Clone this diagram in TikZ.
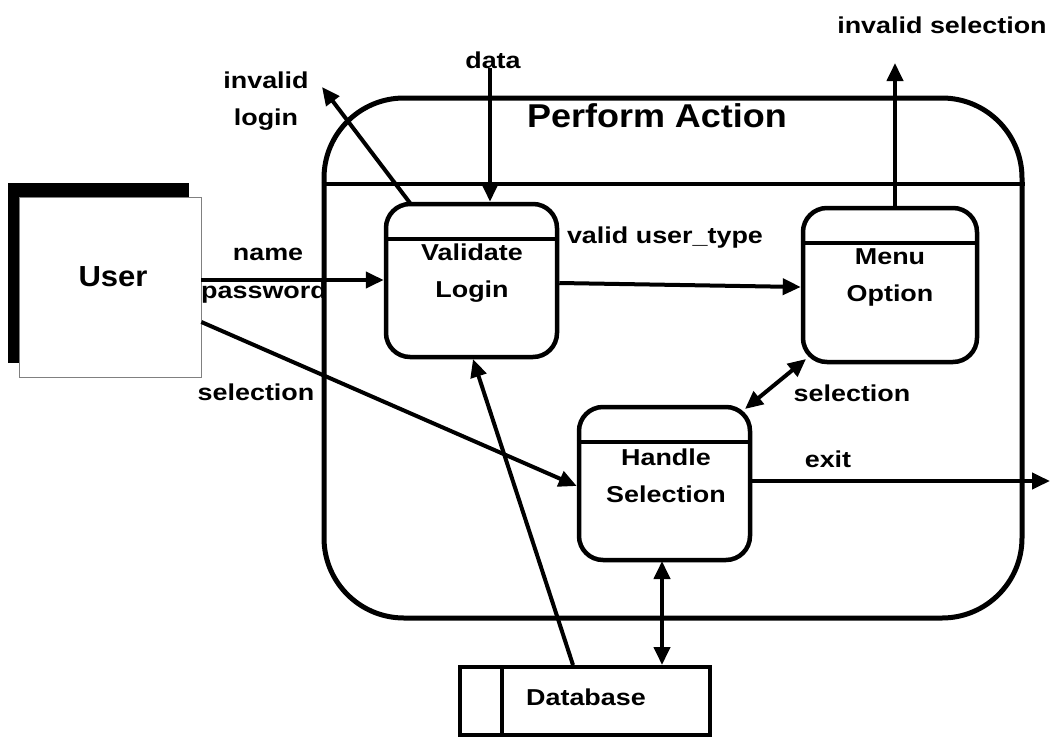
\documentclass[tikz,border=0pt]{standalone}
\usepackage{fontspec}
\setmainfont{Liberation Sans}
\usetikzlibrary{arrows.meta}
\newcommand\wide[1]{\scalebox{1.17}[1]{#1}}
\begin{document}
\begin{tikzpicture}[x=1pt,y=-1pt,
  lbl/.style={font=\fontsize{23}{37}\selectfont\bfseries, inner sep=0pt, align=center},
  proc/.style={draw, line width=4.5pt, rounded corners=24pt, minimum width=171pt, minimum height=153pt, inner sep=0pt},
  flow/.style={line width=4pt, -{Triangle[length=18pt,width=16pt]}},
  bflow/.style={line width=4pt, {Triangle[length=18pt,width=16pt]}-{Triangle[length=18pt,width=16pt]}},
  divline/.style={line width=4pt}
]
\useasboundingbox (0,0) rectangle (1050,739);
% outer Perform Action box
\node[draw, line width=5pt, rounded corners=80pt, minimum width=698pt, minimum height=520pt, inner sep=0pt] (pa) at (673,358) {};
\draw[line width=3.5pt] (pa.west |- 0,184) -- (pa.east |- 0,184);
\node[font=\fontsize{33}{36}\selectfont\bfseries, inner sep=0pt] (pat) at (657,116) {\scalebox{1.09}[1]{Perform Action}};
% User
\fill (8,183) rectangle (189,363);
\node[draw=gray, line width=0.8pt, fill=white, minimum width=182pt, minimum height=180pt, inner sep=0pt] (user) at (110,287) {};
\node[font=\fontsize{29}{30}\selectfont\bfseries, inner sep=0pt] (usert) at (113,277) {\scalebox{1.07}[1]{User}};
% processes
\node[proc] (vl) at (471.5,280.5) {};
\draw[divline] (vl.west |- 0,239) -- (vl.east |- 0,239);
\node[lbl] (vlt) at (472,273.5) {\wide{Validate}\\\wide{Login}};
\node[proc, minimum width=174pt, minimum height=154pt] (mo) at (890,285) {};
\draw[divline] (mo.west |- 0,243) -- (mo.east |- 0,243);
\node[lbl] (mot) at (890,277.5) {\wide{Menu}\\\wide{Option}};
\node[proc] (hs) at (664.5,483.5) {};
\draw[divline] (hs.west |- 0,442) -- (hs.east |- 0,442);
\node[lbl] (hst) at (666,475.5) {\wide{Handle}\\\wide{Selection}};
% database
\node[draw, line width=4pt, minimum width=250pt, minimum height=68pt, inner sep=0pt] (db) at (585,701) {};
\draw[line width=4pt] (502,667) -- (502,735);
\node[lbl] (dbt) at (586,697) {\wide{Database}};
% free ends
\coordinate (ilend) at (322,87);
\coordinate (dstart) at (490,68);
\coordinate (isend) at (895,63);
\coordinate (exend) at (1050,481);
% connectors
\draw[flow] (user.east |- 0,280) -- (vl.west |- 0,280);
\draw[flow] (user.east |- 0,322) -- (hs.west |- 0,486);
\draw[flow] (410,203) -- (ilend);
\draw[flow] (dstart) -- (dstart |- vl.north);
\draw[flow] (vl.east |- 0,283) -- (mo.west |- 0,287);
\draw[flow] (mo.north -| isend) -- (isend);
\draw[bflow] (806,359) -- (745,409);
\draw[flow] (hs.east |- 0,481) -- (exend);
\draw[flow] (db.north -| 573,0) -- (473,359);
\draw[bflow] (662,561) -- (662,665);
% labels
\node[lbl] (l1) at (268,254) {\wide{name}};
\node[lbl] (l2) at (264,293) {\wide{password}};
\node[lbl] (l3) at (256,392) {\wide{selection}};
\node[lbl] (l4) at (266,101.5) {\wide{invalid}\\\wide{login}};
\node[lbl] (l6) at (493,60) {\wide{data}};
\node[lbl] (l7) at (665,238) {\wide{valid user\_type}};
\node[lbl] (l8) at (942,25) {\wide{invalid selection}};
\node[lbl] (l9) at (852,393) {\wide{selection}};
\node[lbl] (l10) at (828,459) {\wide{exit}};
\end{tikzpicture}
\end{document}
